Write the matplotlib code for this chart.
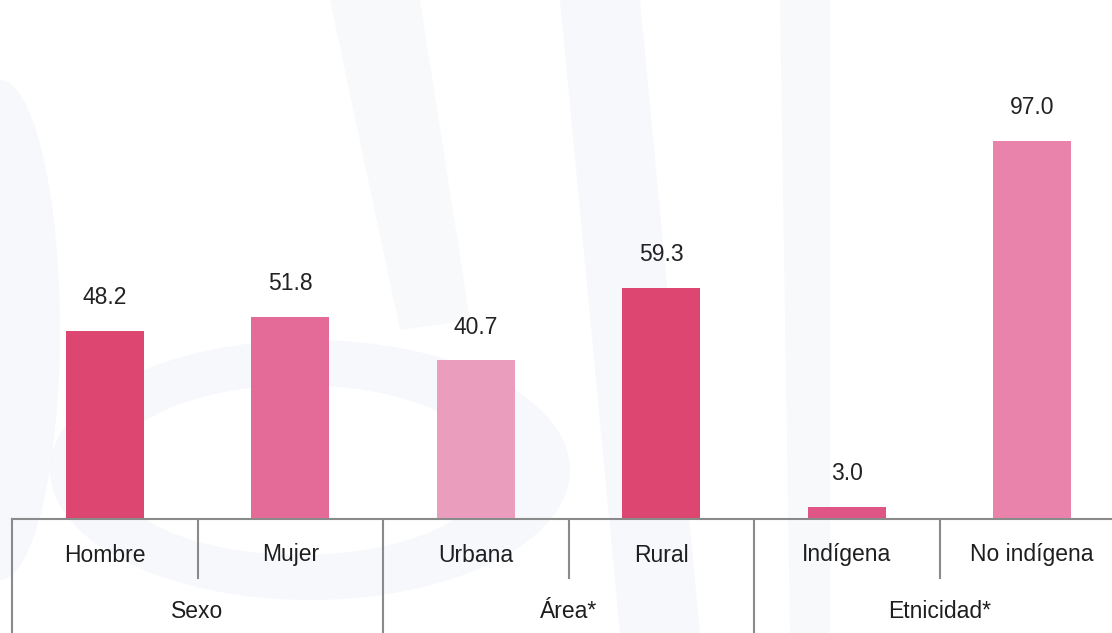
import matplotlib
matplotlib.use("Agg")
import matplotlib.pyplot as plt
from matplotlib.patches import Ellipse, Polygon

categories = ["Hombre", "Mujer", "Urbana", "Rural", "Indígena", "No indígena"]
values = [48.2, 51.8, 40.7, 59.3, 3.0, 97.0]
groups = ["Sexo", "Área*", "Etnicidad*"]
group_sizes = [2, 2, 2]
colors = ["#DC4670", "#E46B98", "#EB9DBE", "#DC4670", "#DF5585", "#E983AB"]

plt.rcParams['font.family'] = ['Liberation Sans', 'DejaVu Sans']

fig = plt.figure(figsize=(11.12, 6.33), dpi=100)
fig.patch.set_facecolor("white")

# faint watermark shapes in background
bg = fig.add_axes([0, 0, 1, 1], zorder=0)
bg.set_xlim(0, 1112); bg.set_ylim(633, 0); bg.axis("off")
wm = "#EEF2F8"
bg.add_patch(Ellipse((310, 470), 520, 260, color=wm, alpha=0.5, lw=0))
bg.add_patch(Ellipse((300, 470), 380, 170, color="white", lw=0))
bg.add_patch(Polygon([[560, 0], [640, 0], [700, 633], [620, 633]], closed=True, color=wm, alpha=0.5, lw=0))
bg.add_patch(Polygon([[780, 0], [830, 0], [830, 633], [790, 633]], closed=True, color=wm, alpha=0.45, lw=0))
bg.add_patch(Polygon([[330, 0], [420, 0], [470, 320], [400, 330]], closed=True, color=wm, alpha=0.45, lw=0))
bg.add_patch(Ellipse((0, 330), 120, 500, color=wm, alpha=0.5, lw=0))

ax_h_px = 519.0
ax = fig.add_axes([12 / 1112, (633 - 519) / 633, 1113 / 1112, ax_h_px / 633], zorder=1)
ax.patch.set_alpha(0)
n = len(categories)
x = list(range(n))
ax.bar(x, values, width=0.42, color=colors, zorder=2)
ax.set_xlim(-0.5, n - 0.5)
ax.set_ylim(0, 133.2)

for xi, v in zip(x, values):
    ax.annotate(f"{v:.1f}", (xi, v), xytext=(0, 24), textcoords="offset points",
                ha="center", va="center", fontsize=16.5, color="#222222")

for s in ["top", "right", "left"]:
    ax.spines[s].set_visible(False)
ax.spines["bottom"].set_color("#8A8A8A")
ax.spines["bottom"].set_linewidth(1.5)
ax.set_xticks([]); ax.set_yticks([])

tr = ax.get_xaxis_transform()
line_kw = dict(color="#8A8A8A", lw=1.5, transform=tr, clip_on=False)
short_bottom = -(578 - 519) / ax_h_px
full_bottom = -(640 - 519) / ax_h_px

for i, c in enumerate(categories):
    ax.text(i, -(555 - 519) / ax_h_px, c, transform=tr, ha="center", va="center",
            fontsize=16.5, color="#1E1E1E")
start = 0
ax.plot([-0.5, -0.5], [0, full_bottom], **line_kw)
for g, size in zip(groups, group_sizes):
    end = start + size
    for k in range(start + 1, end):
        ax.plot([k - 0.5, k - 0.5], [0, short_bottom], **line_kw)
    ax.plot([end - 0.5, end - 0.5], [0, full_bottom], **line_kw)
    ax.text((start + end - 1) / 2, -(612 - 519) / ax_h_px, g, transform=tr,
            ha="center", va="center", fontsize=16.5, color="#1E1E1E")
    start = end

fig.savefig("out.png", dpi=100, facecolor="white")
